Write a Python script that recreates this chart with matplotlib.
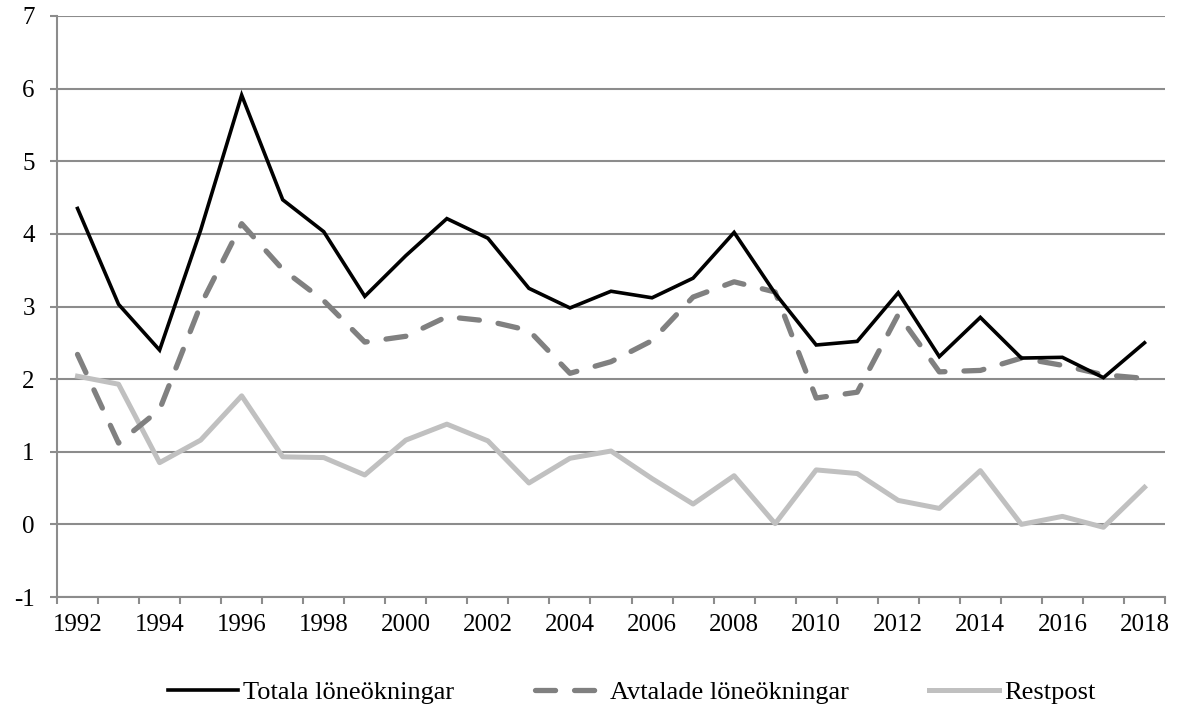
import matplotlib
matplotlib.use("Agg")
import matplotlib.pyplot as plt
import numpy as np

years = list(range(1992, 2019))
totala = [4.35, 3.03, 2.40, 4.05, 5.91, 4.47, 4.03, 3.14, 3.70, 4.21, 3.94, 3.25, 2.98, 3.21, 3.12,
          3.39, 4.02, 3.18, 2.47, 2.52, 3.19, 2.31, 2.85, 2.29, 2.30, 2.02, 2.50]
avtalade = [2.34, 1.12, 1.58, 3.02, 4.14, 3.51, 3.08, 2.51, 2.59, 2.86, 2.80, 2.67, 2.08, 2.24, 2.53,
            3.13, 3.34, 3.20, 1.74, 1.82, 2.89, 2.10, 2.12, 2.29, 2.19, 2.06, 2.01]
restpost = [2.04, 1.93, 0.85, 1.16, 1.77, 0.93, 0.92, 0.68, 1.16, 1.38, 1.15, 0.57, 0.91, 1.01, 0.63,
            0.28, 0.67, 0.01, 0.75, 0.70, 0.33, 0.22, 0.74, 0.00, 0.11, -0.04, 0.51]
labels = ["Totala löneökningar", "Avtalade löneökningar", "Restpost"]
yticks = list(range(-1, 8))
xlabels = [str(y) for y in range(1992, 2019, 2)]

plt.rcParams['font.family'] = ['Liberation Serif', 'DejaVu Serif']
fig = plt.figure(figsize=(11.84, 7.22), dpi=100)
ax = fig.add_axes([57/1184, 1-597/722, (1165-57)/1184, (597-16)/722])

grid_c = '#8c8c8c'
ax.plot(years, totala, color='black', lw=2.6, label=labels[0], solid_joinstyle='miter', zorder=4)
ax.plot(years, avtalade, color='#808080', lw=3.8, label=labels[1], dashes=(3.8, 3.6),
        dash_capstyle='round', zorder=3)
ax.plot(years, restpost, color='#c0c0c0', lw=3.6, label=labels[2], zorder=2)

ax.set_ylim(-1, 7)
ax.set_yticks(yticks)
ax.set_yticklabels([str(v) for v in yticks], fontsize=18)
ax.set_xlim(1991.5, 2018.5)
ax.set_xticks(np.arange(1991.5, 2019.0, 1.0))
ax.set_xticklabels([])
ax.set_xticks(list(range(1992, 2019, 2)), minor=True)
ax.set_xticklabels(xlabels, minor=True, fontsize=18)
ax.tick_params(axis='x', which='minor', length=0, pad=12)
ax.tick_params(axis='x', which='major', length=5, width=1.5, color=grid_c, direction='out')
ax.tick_params(axis='y', length=5, width=1.5, color=grid_c, direction='out', pad=11)

ax.grid(axis='y', color=grid_c, lw=1.5, zorder=0)
ax.set_axisbelow(True)
for s in ['top', 'right']:
    ax.spines[s].set_visible(False)
for s in ['left', 'bottom']:
    ax.spines[s].set_color(grid_c)
    ax.spines[s].set_linewidth(1.5)

fig.legend(loc='center', bbox_to_anchor=(632/1184, 1-692/722), ncol=3, frameon=False,
           fontsize=19, handlelength=2.65, columnspacing=3.05, handletextpad=0.2)

fig.savefig('out.png', dpi=100)
